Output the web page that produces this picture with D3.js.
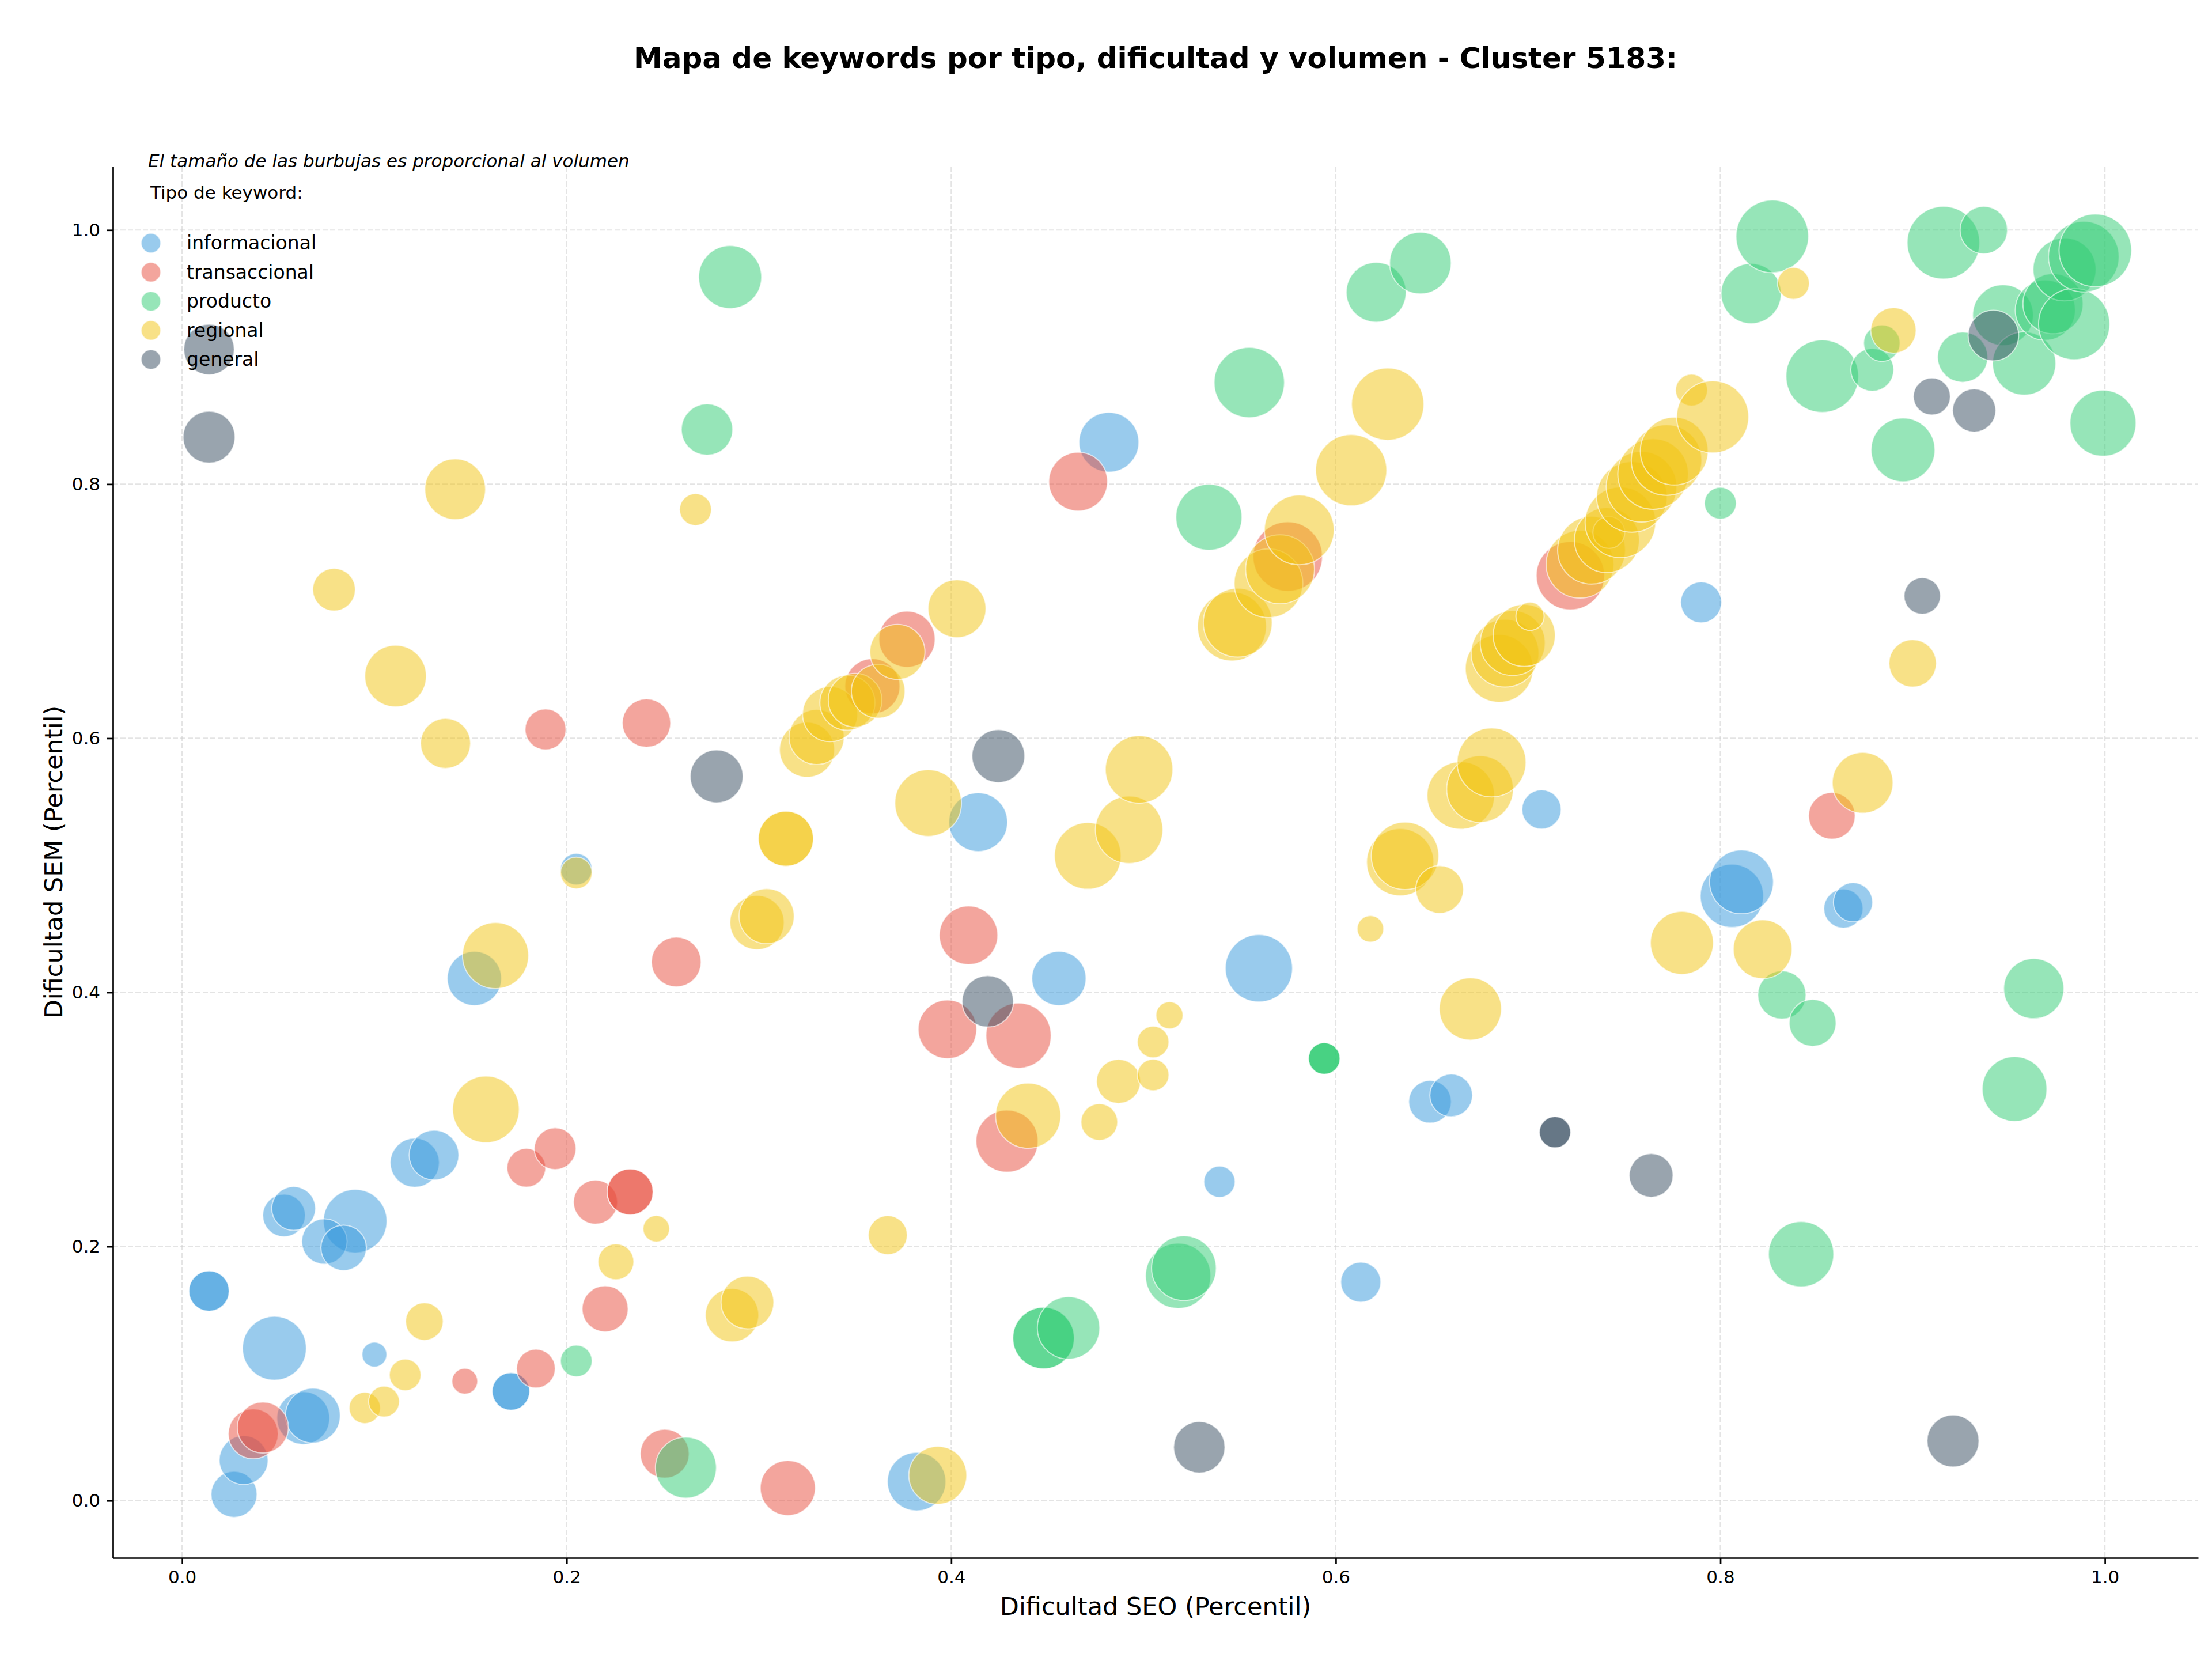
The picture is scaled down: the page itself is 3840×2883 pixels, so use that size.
<!DOCTYPE html>
<html>
<head>
<meta charset="utf-8">
<title>Mapa de keywords</title>
<style>
  body { margin: 0; background: #fff; }
  svg text { font-family: "DejaVu Sans", sans-serif; }
</style>
</head>
<body>
<svg id="chart" width="3840" height="2883"></svg>
<script src="https://d3js.org/d3.v7.min.js"></script>
<script>
// tipos de keyword, en el orden de la leyenda
var tipos = ["informacional", "transaccional", "producto", "regional", "general"];
var colores = ["#3498db", "#e74c3c", "#2ecc71", "#f1c40f", "#34495e"];
var ticks = [0, 0.2, 0.4, 0.6, 0.8, 1.0];

// [dificultad SEO, dificultad SEM, volumen]
var informacional = [
  [0.027, 0.005, 531], [0.032, 0.032, 599], [0.063, 0.065, 699], [0.068, 0.067, 753],
  [0.048, 0.120, 1022], [0.100, 0.115, 155], [0.014, 0.165, 409], [0.014, 0.165, 409],
  [0.171, 0.086, 354], [0.171, 0.086, 354], [0.053, 0.2245, 456], [0.058, 0.230, 481],
  [0.090, 0.220, 1013], [0.074, 0.204, 518], [0.084, 0.199, 518], [0.121, 0.266, 606],
  [0.131, 0.272, 620], [0.152, 0.411, 737], [0.205, 0.497, 251], [0.382, 0.015, 857],
  [0.414, 0.534, 865], [0.456, 0.411, 737], [0.482, 0.833, 899], [0.5395, 0.251, 246],
  [0.560, 0.419, 1133], [0.613, 0.172, 403], [0.649, 0.314, 456], [0.660, 0.319, 456],
  [0.707, 0.544, 386], [0.790, 0.707, 420], [0.806, 0.476, 1004], [0.811, 0.487, 1022],
  [0.864, 0.466, 386], [0.869, 0.471, 386]
];
var transaccional = [
  [0.037, 0.0526, 627], [0.042, 0.0576, 655], [0.147, 0.094, 166], [0.184, 0.104, 375],
  [0.220, 0.151, 531], [0.179, 0.262, 375], [0.194, 0.277, 438], [0.215, 0.235, 487],
  [0.233, 0.243, 531], [0.233, 0.243, 531], [0.189, 0.607, 420], [0.2415, 0.612, 585],
  [0.257, 0.424, 620], [0.251, 0.037, 599], [0.315, 0.010, 761], [0.359, 0.641, 761],
  [0.377, 0.678, 792], [0.409, 0.445, 857], [0.398, 0.371, 857], [0.435, 0.366, 1067],
  [0.429, 0.283, 968], [0.466, 0.802, 865], [0.575, 0.743, 1210], [0.722, 0.728, 1171],
  [0.858, 0.539, 545]
];
var producto = [
  [0.205, 0.110, 251], [0.262, 0.026, 933], [0.285, 0.963, 995], [0.273, 0.843, 662],
  [0.448, 0.128, 950], [0.448, 0.128, 950], [0.461, 0.136, 977], [0.518, 0.177, 1067],
  [0.521, 0.183, 1049], [0.534, 0.774, 1095], [0.555, 0.880, 1240], [0.594, 0.348, 251],
  [0.594, 0.348, 251], [0.594, 0.348, 251], [0.621, 0.951, 899], [0.644, 0.974, 950],
  [0.800, 0.785, 255], [0.816, 0.950, 907], [0.827, 0.995, 1321], [0.832, 0.398, 585],
  [0.842, 0.194, 1067], [0.848, 0.376, 551], [0.853, 0.885, 1321], [0.879, 0.890, 462],
  [0.884, 0.911, 333], [0.895, 0.827, 1022], [0.916, 0.990, 1321], [0.926, 0.900, 634],
  [0.937, 1.000, 564], [0.947, 0.933, 925], [0.953, 0.324, 1049], [0.958, 0.895, 1004],
  [0.963, 0.403, 907], [0.969, 0.937, 907], [0.973, 0.942, 907], [0.979, 0.969, 995],
  [0.984, 0.926, 1270], [0.989, 0.979, 1250], [0.995, 0.984, 1321], [0.999, 0.848, 1095]
];
var regional = [
  [0.079, 0.717, 456], [0.111, 0.649, 950], [0.137, 0.596, 627], [0.142, 0.796, 924],
  [0.163, 0.429, 1095], [0.158, 0.308, 1114], [0.205, 0.494, 251], [0.095, 0.073, 246],
  [0.105, 0.078, 238], [0.116, 0.099, 251], [0.126, 0.141, 354], [0.2256, 0.188, 323],
  [0.2466, 0.214, 177], [0.267, 0.780, 255], [0.286, 0.146, 714], [0.294, 0.156, 699],
  [0.299, 0.455, 737], [0.304, 0.460, 761], [0.314, 0.521, 761], [0.314, 0.521, 761],
  [0.325, 0.591, 761], [0.330, 0.601, 761], [0.337, 0.619, 761], [0.346, 0.628, 761],
  [0.350, 0.630, 722], [0.362, 0.637, 722], [0.367, 0.209, 381], [0.372, 0.668, 761],
  [0.388, 0.549, 1114], [0.393, 0.020, 841], [0.403, 0.702, 841], [0.440, 0.303, 1067],
  [0.471, 0.5075, 1114], [0.477, 0.298, 338], [0.487, 0.330, 487], [0.4925, 0.528, 1142],
  [0.4977, 0.5755, 1142], [0.505, 0.361, 251], [0.505, 0.335, 251], [0.5135, 0.382, 184],
  [0.546, 0.688, 1191], [0.549, 0.691, 1191], [0.565, 0.722, 1181], [0.571, 0.733, 1191],
  [0.581, 0.764, 1220], [0.608, 0.811, 1270], [0.618, 0.450, 177], [0.627, 0.863, 1311],
  [0.6335, 0.5025, 1133], [0.636, 0.5075, 1142], [0.654, 0.481, 571], [0.665, 0.555, 1142],
  [0.670, 0.387, 968], [0.675, 0.560, 1114], [0.681, 0.581, 1191], [0.685, 0.655, 1152],
  [0.688, 0.667, 1152], [0.692, 0.675, 1058], [0.698, 0.681, 968], [0.701, 0.696, 200],
  [0.727, 0.737, 1152], [0.733, 0.748, 1152], [0.741, 0.756, 1058], [0.742, 0.762, 255],
  [0.748, 0.770, 1250], [0.754, 0.790, 1250], [0.759, 0.798, 1250], [0.765, 0.808, 1250],
  [0.772, 0.819, 1250], [0.776, 0.826, 1152], [0.780, 0.439, 995], [0.785, 0.874, 255],
  [0.796, 0.853, 1301], [0.822, 0.434, 865], [0.838, 0.958, 255], [0.874, 0.565, 924],
  [0.890, 0.921, 518], [0.900, 0.659, 564]
];
var general = [
  [0.014, 0.906, 641], [0.014, 0.837, 677], [0.278, 0.570, 699], [0.4245, 0.586, 699],
  [0.419, 0.393, 662], [0.529, 0.042, 662], [0.714, 0.290, 246], [0.714, 0.290, 246],
  [0.764, 0.256, 481], [0.905, 0.712, 333], [0.910, 0.869, 343], [0.921, 0.047, 677],
  [0.932, 0.858, 468], [0.942, 0.917, 641]
];

var series = [informacional, transaccional, producto, regional, general];

var plotL = 196, plotR = 3816, plotT = 289, plotB = 2704;

var x = d3.scaleLinear().domain([-0.036, 1.0485]).range([plotL, plotR]);
var y = d3.scaleLinear().domain([-0.045, 1.050]).range([plotB, plotT]);
var r = d3.scaleSqrt().domain([0, 1352]).range([0, 63.7]);
var color = d3.scaleOrdinal().domain(tipos).range(colores);

var svg = d3.select('#chart');
svg.append('rect').attr('width', 3840).attr('height', 2883).style('fill', '#fff');

// rejilla
var grid = svg.append('g');
grid.selectAll('line.vx').data(ticks).enter().append('line')
  .attr('x1', function(d) { return x(d); }).attr('x2', function(d) { return x(d); })
  .attr('y1', plotT).attr('y2', plotB);
grid.selectAll('line.hy').data(ticks).enter().append('line')
  .attr('y1', function(d) { return y(d); }).attr('y2', function(d) { return y(d); })
  .attr('x1', plotL).attr('x2', plotR);
grid.selectAll('line')
  .style('stroke', '#cfcfcf').style('stroke-width', 2.2)
  .style('stroke-dasharray', '9,4').style('opacity', 0.55);

// burbujas
tipos.forEach(function(t, i) {
  svg.append('g').selectAll('circle').data(series[i]).enter().append('circle')
    .attr('cx', function(d) { return x(d[0]); })
    .attr('cy', function(d) { return y(d[1]); })
    .attr('r', function(d) { return r(d[2]); })
    .style('fill', color(t)).style('fill-opacity', 0.5)
    .style('stroke', '#fff').style('stroke-width', 2).style('stroke-opacity', 0.6);
});

// ejes
var fmt = d3.format('.1f');
var gx = svg.append('g').attr('transform', 'translate(0,' + plotB + ')')
  .call(d3.axisBottom(x).tickValues(ticks).tickFormat(fmt).tickSize(10).tickSizeOuter(0).tickPadding(12));
var gy = svg.append('g').attr('transform', 'translate(' + plotL + ',0)')
  .call(d3.axisLeft(y).tickValues(ticks).tickFormat(fmt).tickSize(10).tickSizeOuter(0).tickPadding(12));
[gx, gy].forEach(function(g) {
  g.attr('font-size', 31).attr('font-family', '"DejaVu Sans", sans-serif');
  g.select('.domain').style('stroke', '#000').style('stroke-width', 2.7);
  g.selectAll('.tick line').style('stroke', '#000').style('stroke-width', 2.7);
  g.selectAll('.tick text').style('fill', '#000');
});

// titulos
svg.append('text').attr('x', (plotL + plotR) / 2).attr('y', 118)
  .attr('text-anchor', 'middle').style('font-size', '50px').style('font-weight', 'bold')
  .text('Mapa de keywords por tipo, dificultad y volumen - Cluster 5183:');
svg.append('text').attr('x', (plotL + plotR) / 2).attr('y', 2803)
  .attr('text-anchor', 'middle').style('font-size', '43px')
  .text('Dificultad SEO (Percentil)');
svg.append('text').attr('transform', 'translate(108,' + ((plotT + plotB) / 2) + ') rotate(-90)')
  .attr('text-anchor', 'middle').style('font-size', '43px')
  .text('Dificultad SEM (Percentil)');

svg.append('text').attr('x', 257).attr('y', 290)
  .style('font-size', '31px').style('font-style', 'italic')
  .text('El tamaño de las burbujas es proporcional al volumen');

// leyenda
svg.append('text').attr('x', 261).attr('y', 345).style('font-size', '31px').text('Tipo de keyword:');
var leg = svg.append('g').selectAll('g').data(tipos).enter().append('g')
  .attr('transform', function(d, i) { return 'translate(262,' + (422 + i * 50.5) + ')'; });
leg.append('circle').attr('r', 17)
  .style('fill', function(d) { return color(d); }).style('fill-opacity', 0.5)
  .style('stroke', '#fff').style('stroke-width', 2).style('stroke-opacity', 0.6);
leg.append('text').attr('x', 62).attr('y', 11).style('font-size', '33px')
  .text(function(d) { return d; });
</script>
</body>
</html>
